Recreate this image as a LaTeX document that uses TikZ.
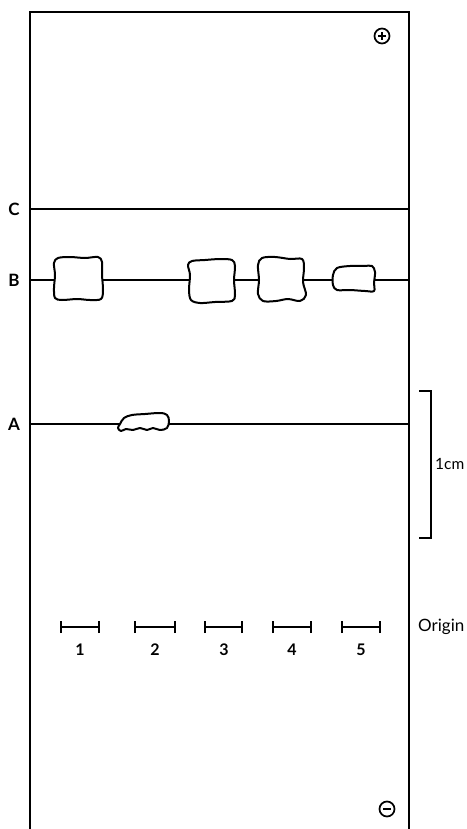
\documentclass[tikz,border=0pt]{standalone}
\usepackage{fontspec}
\setmainfont{Lato}
\begin{document}
\begin{tikzpicture}[x=1pt,y=-1pt,
  edge/.style={line width=1.5pt},
  spot/.style={line width=2pt,fill=white,line join=round},
  lbl/.style={font=\fontsize{17}{17}\selectfont\bfseries,inner sep=0pt},
  num/.style={font=\fontsize{16}{16}\selectfont\bfseries,inner sep=0pt},
  txt/.style={font=\fontsize{17}{17}\selectfont,inner sep=0pt},
  tick/.style={line width=1.5pt}]
\useasboundingbox (0,0) rectangle (466,829);
% frame
\coordinate (tl) at (30,12); \coordinate (tr) at (409,12);
\coordinate (bl) at (30,829); \coordinate (br) at (409,829);
\draw[edge] (bl) -- (tl) -- (tr) -- (br);
% labels
\node[lbl] (C) at (14,209) {C};
\node[lbl] (B) at (14,280) {B};
\node[lbl] (A) at (14,424) {A};
% lines
\coordinate (cl) at (30,209); \coordinate (cr) at (409,209);
\coordinate (blb) at (30,280); \coordinate (brb) at (409,280);
\coordinate (al) at (30,424); \coordinate (ar) at (409,424);
\draw[edge] (cl) -- (cr);
\draw[edge] (blb) -- (brb);
\draw[edge] (al) -- (ar);
% spots on B
\draw[spot] plot[smooth cycle,tension=0.55] coordinates {(58,258) (70,257) (85,258) (98,257) (102,262) (102,275) (103,290) (101,299) (90,300) (77,299) (62,300) (55,298) (54,288) (55,275) (54,263)};
\draw[spot] plot[smooth cycle,tension=0.55] coordinates {(192,261) (205,260) (220,259) (232,260) (235,266) (234,280) (235,295) (232,301) (215,302) (200,303) (191,300) (189,290) (190,275) (188,265)};
\draw[spot] plot[smooth cycle,tension=0.55] coordinates {(262,258) (275,257) (290,259) (302,259) (304,268) (303,282) (306,295) (300,301) (288,299) (276,301) (263,301) (258,294) (259,280) (258,265)};
\draw[spot] plot[smooth cycle,tension=0.55] coordinates {(337,268) (350,266) (364,266) (372,266) (375,272) (374,283) (374,291) (365,291) (350,290) (337,290) (333,285) (333,275)};
% spot on A
\draw[spot] plot[smooth cycle,tension=0.6] coordinates {(120,424) (124,418) (132,415) (145,414) (160,413) (167,415) (169,421) (167,428) (160,430) (153,428) (147,430) (140,428) (133,430) (126,429) (121,431) (118,428)};
% bracket
\coordinate (k1) at (419,391); \coordinate (k2) at (431,391);
\coordinate (k3) at (431,538); \coordinate (k4) at (419,538);
\draw[edge] (k1) -- (k2) -- (k3) -- (k4);
\node[txt,anchor=west,font=\fontsize{15.5}{15.5}\selectfont] (cm) at (435,464) {1cm};
% origin markers
\foreach \a/\b/\n/\x in {61/99/1/80, 135/175/2/155, 205/242/3/224, 273/311/4/292, 342/380/5/361}{
  \coordinate (o\n l) at (\a,627); \coordinate (o\n r) at (\b,627);
  \draw[tick] (o\n l) -- (o\n r);
  \draw[tick] ([yshift=-6pt]o\n l) -- ([yshift=6pt]o\n l);
  \draw[tick] ([yshift=-6pt]o\n r) -- ([yshift=6pt]o\n r);
  \node[num] (n\n) at (\x,650) {\n};
}
\node[txt,anchor=west] (origin) at (418,627) {Origin};
% electrodes
\node[draw,circle,line width=1.7pt,minimum size=15pt,inner sep=0pt] (plus) at (382,36) {};
\draw[line width=1.8pt] ([xshift=-3.8pt]plus.center) -- ([xshift=3.8pt]plus.center)
  ([yshift=-3.8pt]plus.center) -- ([yshift=3.8pt]plus.center);
\node[draw,circle,line width=1.7pt,minimum size=15pt,inner sep=0pt] (minus) at (387,809) {};
\draw[line width=1.8pt] ([xshift=-3.8pt]minus.center) -- ([xshift=3.8pt]minus.center);
\end{tikzpicture}
\end{document}
